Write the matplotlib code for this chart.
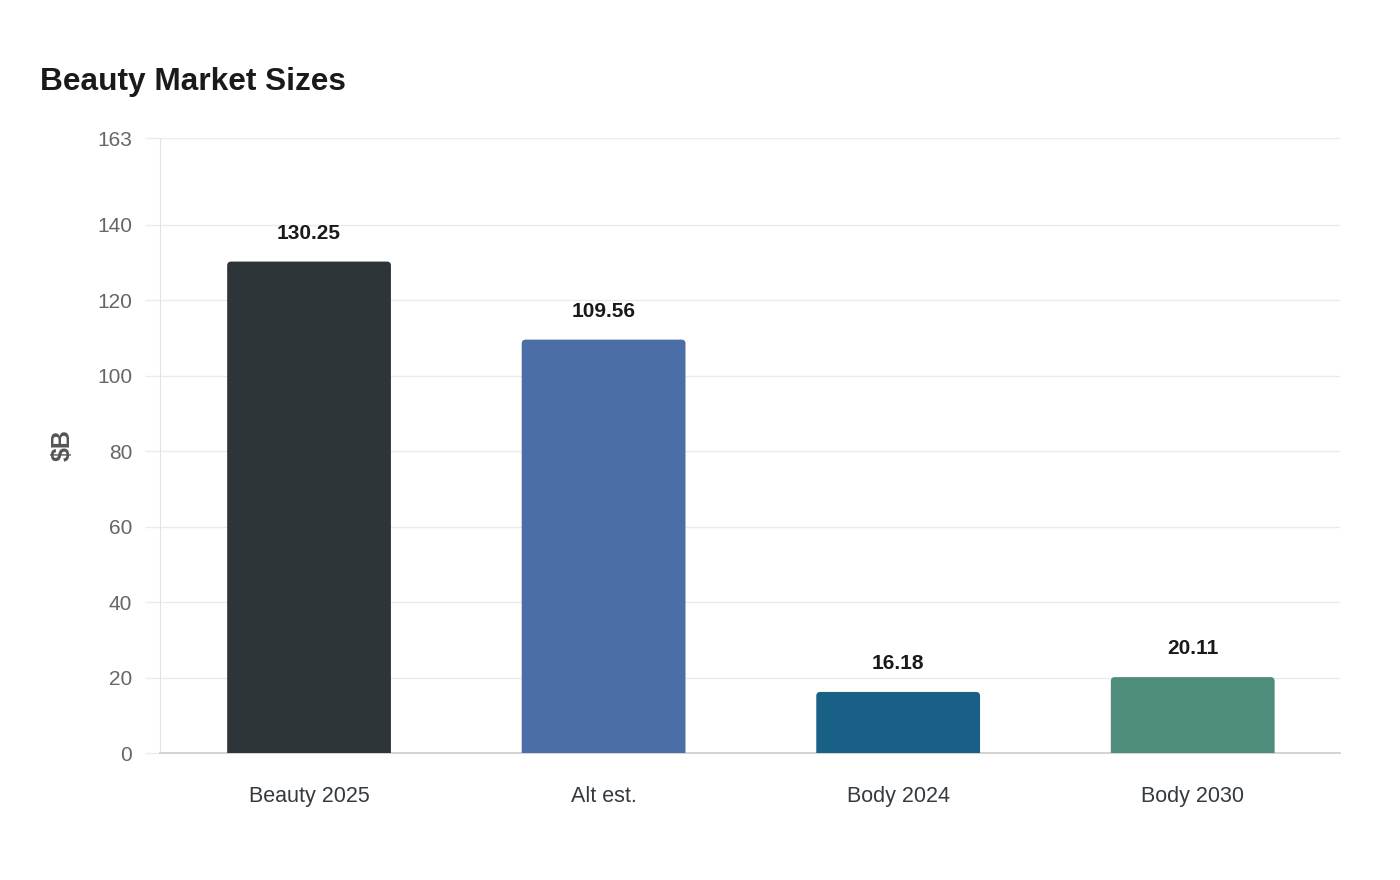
import matplotlib
matplotlib.use("Agg")
import matplotlib.pyplot as plt
from matplotlib.patches import PathPatch
from matplotlib.path import Path

plt.rcParams['font.family'] = ['Liberation Sans', 'DejaVu Sans']

# chart data
categories = ["Beauty 2025", "Alt est.", "Body 2024", "Body 2030"]
values = [130.25, 109.56, 16.18, 20.11]
colors = ["#2e3538", "#4a6ea5", "#196087", "#4e8c7b"]
y_ticks = [0, 20, 40, 60, 80, 100, 120, 140, 163]

fig = plt.figure(figsize=(14, 8.8), dpi=100)
ax = fig.add_axes([160 / 1400, 127 / 880, 1180 / 1400, 615 / 880])
ax.set_xlim(-0.506, len(categories) - 0.5)
ax.set_ylim(0, 163)

# px -> data conversion for the rounded top corners
x_per_px = 4.006 / 1180
y_per_px = 163 / 615
rx = 4 * x_per_px
ry = 4 * y_per_px
width = 0.556


def top_rounded_bar(x0, w, h):
    verts = [(x0, 0), (x0, h - ry), (x0, h), (x0 + rx, h),
             (x0 + w - rx, h), (x0 + w, h), (x0 + w, h - ry),
             (x0 + w, 0), (x0, 0)]
    codes = [Path.MOVETO, Path.LINETO, Path.CURVE3, Path.CURVE3,
             Path.LINETO, Path.CURVE3, Path.CURVE3,
             Path.LINETO, Path.CLOSEPOLY]
    return Path(verts, codes)


for i, (v, c) in enumerate(zip(values, colors)):
    ax.add_patch(PathPatch(top_rounded_bar(i - width / 2, width, v),
                           facecolor=c, edgecolor="none", zorder=3))
    ax.annotate(f"{v:.2f}", (i, v), xytext=(0, 13.5), textcoords="offset points",
                ha="center", va="bottom", fontsize=15, fontweight="bold", color="#1a1a1a")

ax.set_xticks(range(len(categories)))
ax.set_xticklabels(categories)
ax.set_yticks(y_ticks)
ax.tick_params(axis="x", length=0, pad=23.5, labelsize=15.5, labelcolor="#333a40")
ax.tick_params(axis="y", length=11, width=1, color="#ebebeb", pad=9, labelsize=15, labelcolor="#666666")

ax.grid(axis="y", color="#ebebeb", linewidth=1, zorder=0)
ax.set_axisbelow(True)
for s in ["top", "right"]:
    ax.spines[s].set_visible(False)
ax.spines["left"].set_color("#e3e3e3")
ax.spines["bottom"].set_color("#cccccc")
ax.spines["bottom"].set_linewidth(1.2)

ax.set_ylabel("$B", fontsize=18, fontweight="bold", color="#555555", labelpad=16)
fig.text(40 / 1400, 1 - 82 / 880, "Beauty Market Sizes", fontsize=22.8, fontweight="bold",
         color="#1a1a1a", ha="left", va="center")

fig.savefig("out.png", dpi=100, facecolor="white")
